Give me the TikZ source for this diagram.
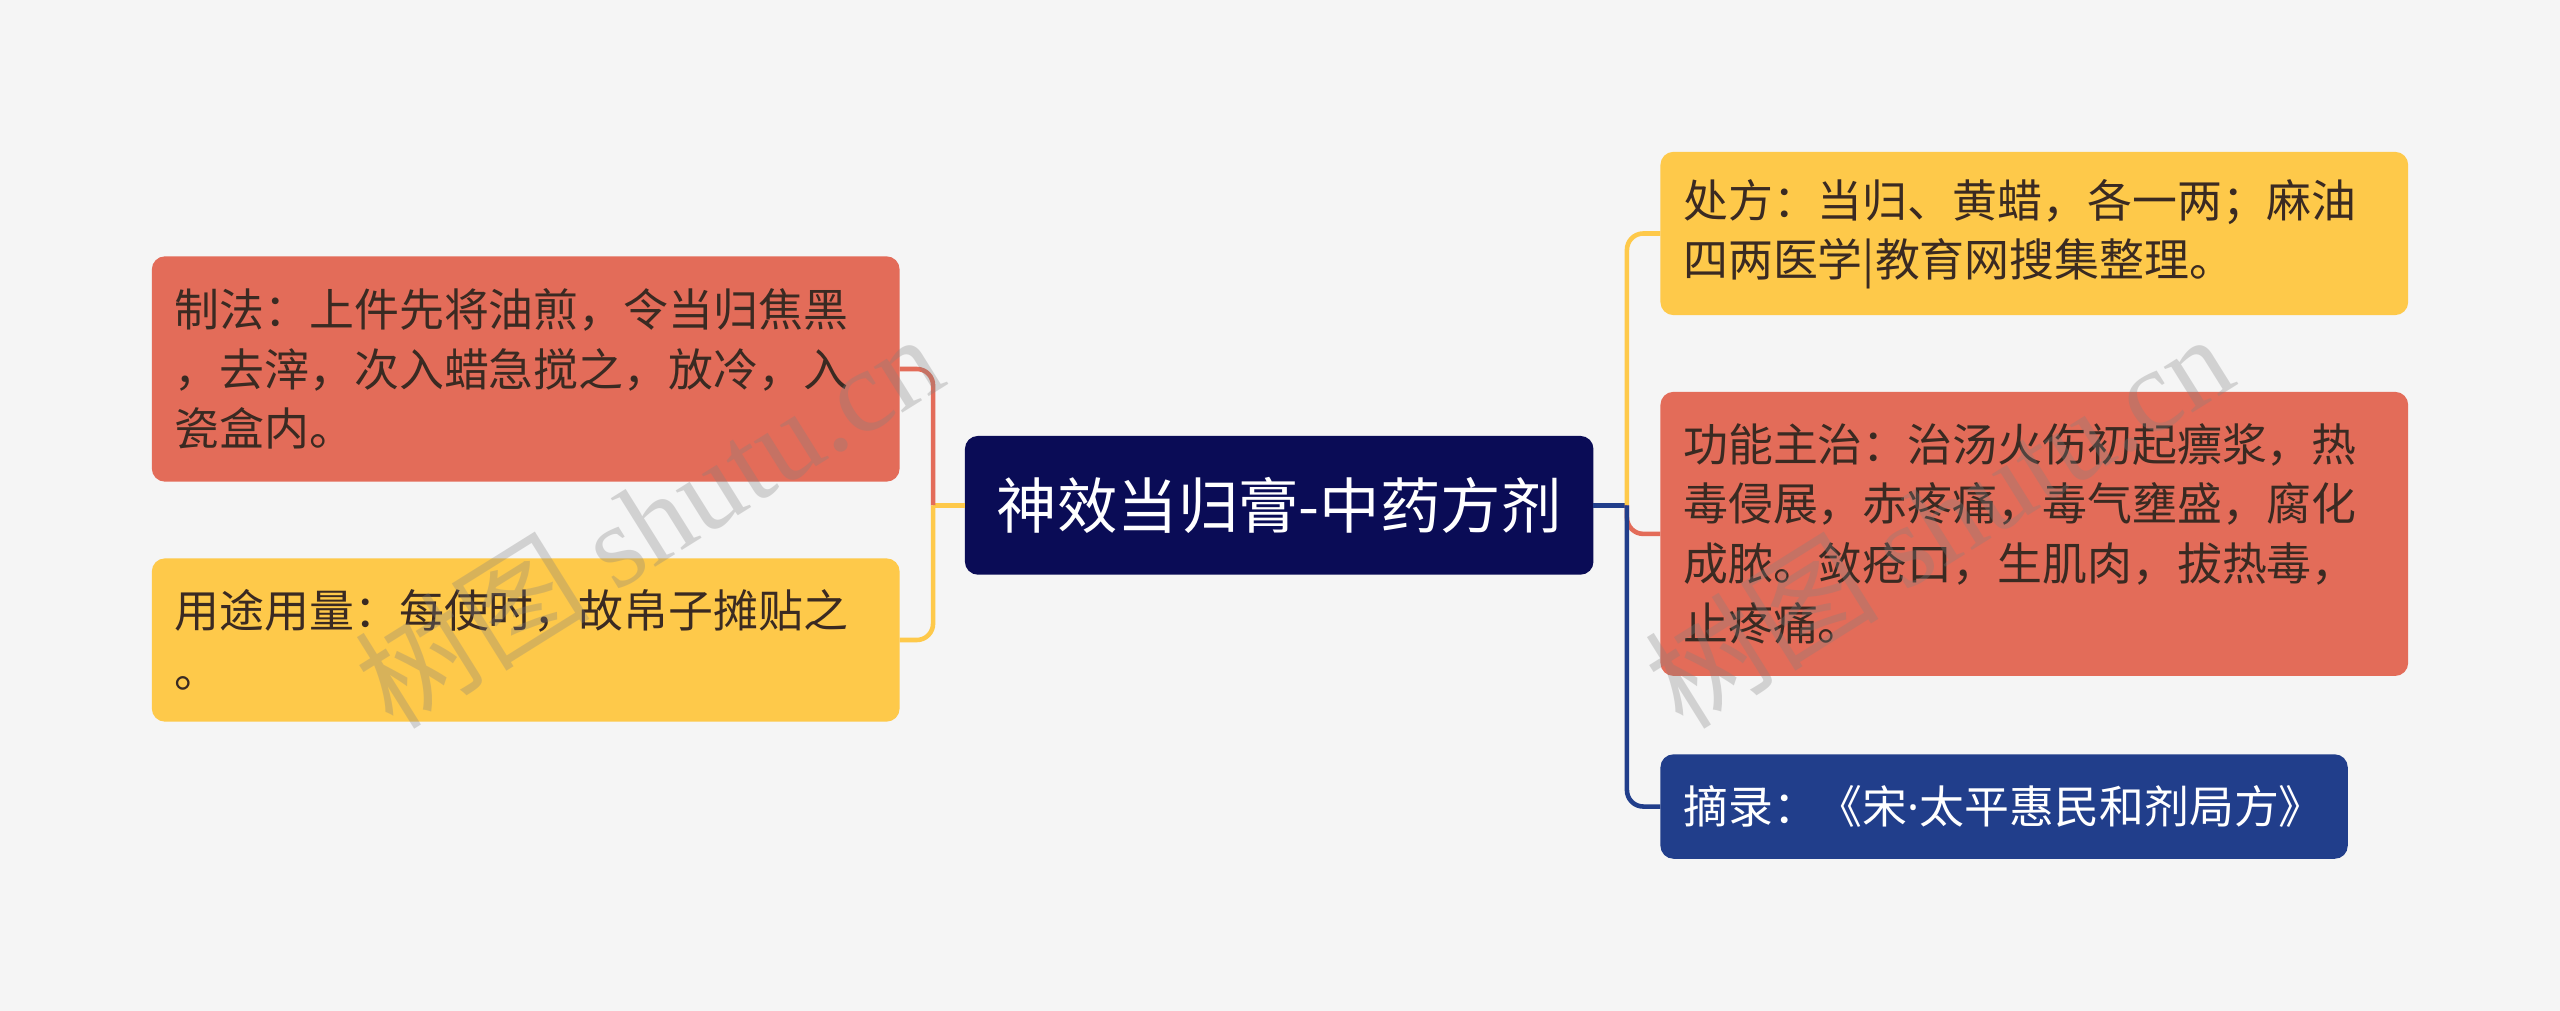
\documentclass[tikz,border=0pt]{standalone}
\usepackage{fontspec}
\setmainfont{Noto Sans CJK SC}
\newfontfamily\wmlatin{Liberation Serif}
\newfontfamily\wmcjk{Noto Sans CJK SC}
\newfontfamily\latinsans{Noto Sans}
\definecolor{bg}{HTML}{F5F5F5}
\definecolor{navy}{HTML}{0A0C56}
\definecolor{cred}{HTML}{E36C59}
\definecolor{cyel}{HTML}{FEC94A}
\definecolor{cblue}{HTML}{213E8B}
\definecolor{txtdark}{HTML}{3A2A22}
\newcommand{\mystrut}{\rule[-0.12em]{0pt}{1em}}
\tikzset{
  box/.style={rounded corners=8pt, inner xsep=14pt, inner ysep=0pt, outer sep=0pt,
    align=left, anchor=north west, text=txtdark,
    font=\fontsize{27.5}{36.7}\selectfont,
    execute at begin node=\mystrut, execute at end node=\mystrut},
  rootbox/.style={rounded corners=8pt, inner sep=0pt, outer sep=0pt, fill=navy, text=white,
    anchor=north west, minimum width=385pt, minimum height=85pt,
    font=\fontsize{37}{40}\selectfont, execute at begin node=\mystrut},
  conn/.style={line width=2.8pt, rounded corners=10pt},
  wm/.style={text=gray, text opacity=0.3, font=\fontsize{72}{72}\selectfont, inner sep=0pt}
}
\begin{document}
\begin{tikzpicture}[x=1pt,y=-1pt]
\fill[bg] (0,0) rectangle (1568,619);
\useasboundingbox (0,0) rectangle (1568,619);

\node[rootbox] (root) at (591,267) {神效当归膏-中药方剂};

\node[box, fill=cred, text width=430pt, minimum height=138pt] (lred) at (93,157)
  {制法：上件先将油煎，令当归焦黑\\，去滓，次入蜡急搅之，放冷，入\\瓷盒内。};
\node[box, fill=cyel, text width=430pt, minimum height=100pt] (lyel) at (93,342)
  {用途用量：每使时，故帛子摊贴之\\。};
\node[box, fill=cyel, text width=430pt, minimum height=100pt] (ryel) at (1017,93)
  {处方：当归、黄蜡，各一两；麻油\\四两医学|教育网搜集整理。};
\node[box, fill=cred, text width=430pt, minimum height=174pt] (rred) at (1017,240)
  {功能主治：治汤火伤初起瘭浆，热\\毒侵展，赤疼痛，毒气壅盛，腐化\\成脓。敛疮口，生肌肉，拔热毒，\\止疼痛。};
\node[box, fill=cblue, text=white, text width=393pt, minimum height=64pt] (rblue) at (1017,462)
  {摘录：《宋{\latinsans ·}太平惠民和剂局方》};

\coordinate (jl) at (571.5,309.5);
\coordinate (jr) at (996.5,309.5);

\draw[conn, cyel] (root.west) -- (jl);
\draw[conn, cred] (jl) |- (lred.east);
\draw[conn, cyel] (jl) |- (lyel.east);

\draw[conn, cblue] (root.east) -- (jr);
\draw[conn, cyel] (jr) |- (ryel.west);
\draw[conn, cred] (jr) |- (rred.west);
\draw[conn, cblue] (jr) |- (rblue.west);

\node[wm, rotate=32] (wm1) at (397,318) {\wmcjk 树图 \wmlatin shutu.cn};
\node[wm, rotate=32] (wm2) at (1187,318) {\wmcjk 树图 \wmlatin shutu.cn};
\end{tikzpicture}
\end{document}
